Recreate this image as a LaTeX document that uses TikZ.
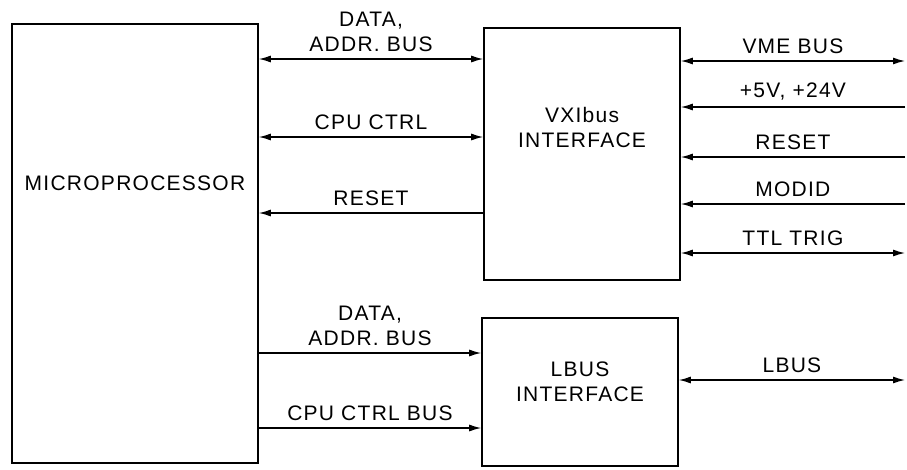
\documentclass[tikz,border=0pt]{standalone}
\usepackage{fontspec}
\setmainfont{Liberation Sans}[LetterSpace=6]
\usetikzlibrary{arrows.meta}
\tikzset{
  blk/.style={draw,line width=1.6pt,inner sep=0pt},
  bus/.style={line width=1.3pt},
  tip/.tip={Latex[length=12pt,width=7pt]}
}
\begin{document}
\begin{tikzpicture}[x=1pt,y=-1pt,font=\fontsize{21}{25}\selectfont]
\useasboundingbox (0,0) rectangle (907,469);
% boxes
\node[blk,minimum width=246pt,minimum height=439pt] (mp) at (135,243.5) {};
\node[blk,minimum width=196pt,minimum height=252pt] (vxi) at (582,154) {};
\node[blk,minimum width=196pt,minimum height=148pt] (lbi) at (580,392) {};
\node (mptext) at (135,183) {MICROPROCESSOR};
\node[align=center] (vxitext) at (582,127) {VXIbus\\INTERFACE};
\node[align=center] (lbitext) at (580,382) {LBUS\\INTERFACE};
% free ends on the right
\coordinate (vme) at (905,61);
\coordinate (pwr) at (905,107);
\coordinate (rst) at (905,157);
\coordinate (mod) at (905,204);
\coordinate (ttl) at (905,253);
\coordinate (lb) at (905,380);
% microprocessor to VXIbus
\draw[bus,tip-tip] (mp.east |- 0,59) -- node[above=3pt,align=center] {DATA,\\ADDR. BUS} (vxi.west |- 0,59);
\draw[bus,tip-tip] (mp.east |- 0,137) -- node[above=3pt] {CPU CTRL} (vxi.west |- 0,137);
\draw[bus,-tip] (vxi.west |- 0,213) -- node[above=3pt] {RESET} (mp.east |- 0,213);
% VXIbus to backplane
\draw[bus,tip-tip] (vxi.east |- vme) -- node[above=3pt] {VME BUS} (vme);
\draw[bus,-tip] (pwr) -- node[above=3pt] {+5V, +24V} (vxi.east |- pwr);
\draw[bus,-tip] (rst) -- node[above=3pt] {RESET} (vxi.east |- rst);
\draw[bus,-tip] (mod) -- node[above=3pt] {MODID} (vxi.east |- mod);
\draw[bus,tip-tip] (vxi.east |- ttl) -- node[above=3pt] {TTL TRIG} (ttl);
% microprocessor to LBUS
\draw[bus,-tip] (mp.east |- 0,353) -- node[above=3pt,align=center] {DATA,\\ADDR. BUS} (lbi.west |- 0,353);
\draw[bus,-tip] (mp.east |- 0,428) -- node[above=3pt] {CPU CTRL BUS} (lbi.west |- 0,428);
\draw[bus,tip-tip] (lbi.east |- lb) -- node[above=3pt] {LBUS} (lb);
\end{tikzpicture}
\end{document}
